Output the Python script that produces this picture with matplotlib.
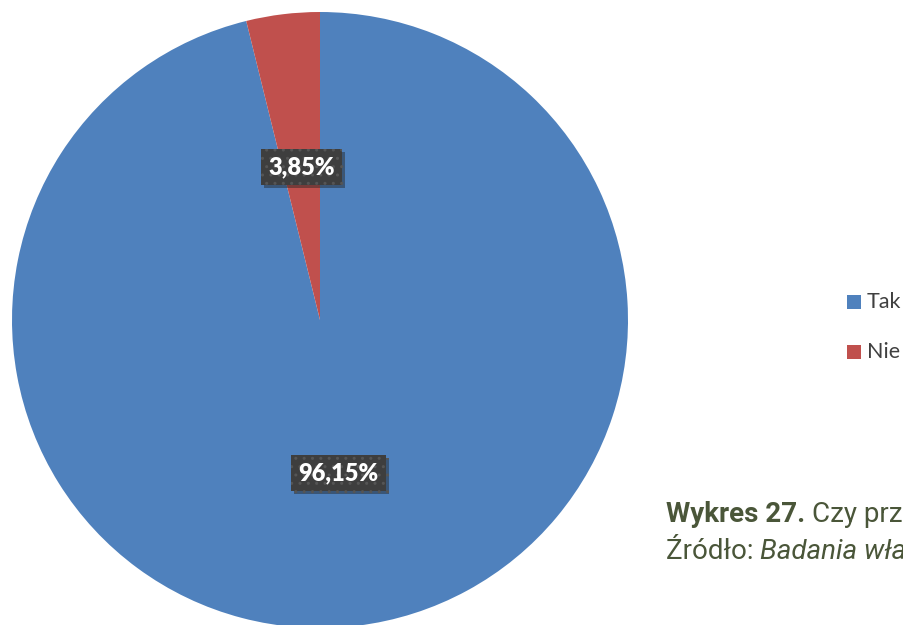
import matplotlib.pyplot as plt
import matplotlib.patheffects as pe

# answers share
categories = ["Tak", "Nie"]
shares = [96.15, 3.85]
colors = ["#4F81BD", "#C0504D"]

W, H = 904, 625
fig = plt.figure(figsize=(W / 100, H / 100), dpi=100)
fig.patch.set_facecolor("white")

# pie sits at (320, 320) from the top-left, radius 308 px
cx, cy, r = 320, 320, 308
ax = fig.add_axes([(cx - r) / W, (H - cy - r) / H, 2 * r / W, 2 * r / H])

wedges, texts, autotexts = ax.pie(
    shares, colors=colors, startangle=90, counterclock=False, radius=1,
    autopct=lambda p: f"{p:.2f}%".replace(".", ","), pctdistance=0.5,
    wedgeprops=dict(linewidth=0),
)
ax.set_xlim(-1, 1)
ax.set_ylim(-1, 1)
ax.axis("off")

shadow = [pe.SimplePatchShadow(offset=(2, -2), shadow_rgbFace="#222222", alpha=0.45), pe.Normal()]
for t in autotexts:
    t.set_family("Lato")
    t.set_weight("heavy")
    t.set_fontsize(17)
    t.set_color("white")
    t.set_bbox(dict(boxstyle="square,pad=0.3", facecolor="#3E3E3E",
                    edgecolor="#555555", hatch="..", linewidth=0))
    t.get_bbox_patch().set_path_effects(shadow)

# legend
leg_x = 847
for i, (name, col) in enumerate(zip(categories, colors)):
    y = 302 + i * 50
    fig.patches.append(plt.Rectangle((leg_x / W, (H - y - 7) / H), 14 / W, 14 / H,
                                     transform=fig.transFigure, facecolor=col, edgecolor="none"))
    fig.text((leg_x + 20) / W, (H - y) / H, name, family="Lato", fontsize=15.5,
             color="#404040", va="center", ha="left")

# caption
cap_color = "#4A5639"
t1 = fig.text(666 / W, (H - 522) / H, "Wykres 27.", family="Roboto", weight="bold",
              fontsize=20, color=cap_color, va="baseline")
fig.canvas.draw()
bb = t1.get_window_extent()
fig.text((bb.x1 + 7) / W, (H - 522) / H, "Czy przedsiębiorstwo", family="Roboto",
         fontsize=20, color=cap_color, va="baseline")
t2 = fig.text(666 / W, (H - 559) / H, "Źródło: ", family="Roboto", fontsize=20,
              color=cap_color, va="baseline")
bb2 = t2.get_window_extent()
fig.text(bb2.x1 / W, (H - 559) / H, "Badania własne", family="Roboto", style="italic",
         fontsize=20, color=cap_color, va="baseline")

fig.savefig("out.png", dpi=100)
